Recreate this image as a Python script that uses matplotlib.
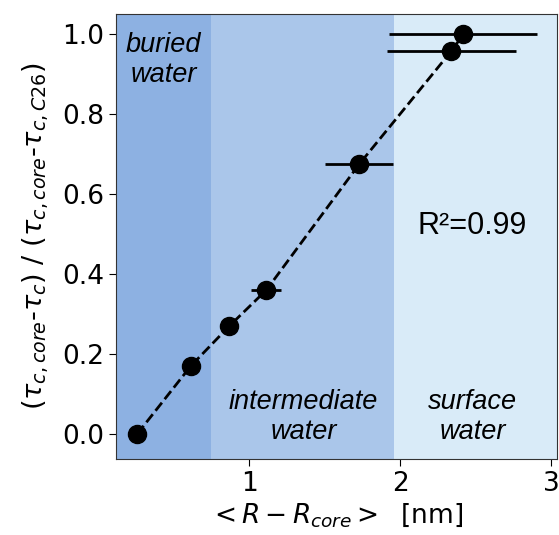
import matplotlib
matplotlib.use("Agg")
import matplotlib.pyplot as plt

# data
r_dist = [0.26, 0.615, 0.87, 1.115, 1.73, 2.34, 2.42]
tau_norm = [0.0, 0.17, 0.27, 0.36, 0.675, 0.958, 1.0]
r_err = [0.0, 0.0, 0.03, 0.10, 0.225, 0.425, 0.49]

# region boundaries [nm]
region_edges = [0.0, 0.75, 1.96, 3.2]
region_colors = ["#8db1e2", "#aac6ea", "#d9ebf8"]
region_labels = ["buried\nwater", "intermediate\nwater", "surface\nwater"]

fig = plt.figure(figsize=(5.59, 5.35), dpi=100)
ax = fig.add_axes([0.2075, 0.142, 0.789, 0.832])

for i, c in enumerate(region_colors):
    ax.axvspan(region_edges[i], region_edges[i + 1], color=c, lw=0, zorder=0)

ax.errorbar(r_dist, tau_norm, xerr=r_err, fmt="o", color="black", ms=13,
            elinewidth=2, capsize=0, zorder=3)
ax.plot(r_dist, tau_norm, "--", color="black", lw=2, zorder=2)

lab_font = dict(family="Liberation Sans", style="italic", fontsize=19.5,
                ha="center", linespacing=1.2)
ax.text(0.435, 1.005, region_labels[0], va="top", **lab_font)
ax.text(1.36, 0.043, region_labels[1], va="center", **lab_font)
ax.text(2.48, 0.043, region_labels[2], va="center", **lab_font)

ax.text(2.48, 0.52, "R\u00b2=0.99", family="Liberation Sans", fontsize=22,
        ha="center", va="center")

ax.set_xlim(0.119, 3.04)
ax.set_ylim(-0.063, 1.051)
ax.set_xticks([1, 2, 3])
ax.set_yticks([0.0, 0.2, 0.4, 0.6, 0.8, 1.0])
ax.tick_params(labelsize=19, length=5)

ax.set_xlabel(r"$<R - R_{core}>$  [nm]", fontsize=19, labelpad=3)
ax.set_ylabel(r"$(\tau_{c,core}$-$\tau_{c})$ / $(\tau_{c,core}$-$\tau_{c,C26})$",
              fontsize=19.5, labelpad=8)

for s in ax.spines.values():
    s.set_color("#333333")

fig.savefig("out.png", dpi=100)
